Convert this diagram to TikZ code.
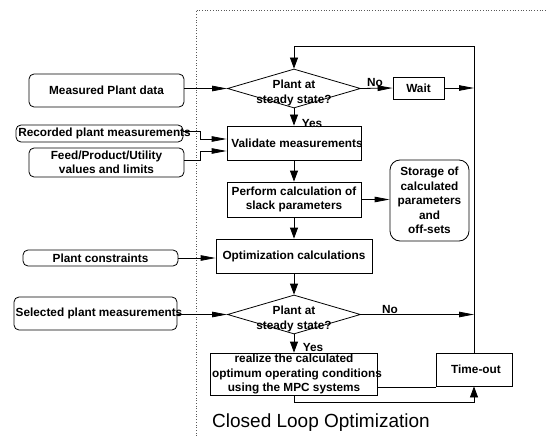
\documentclass[tikz,border=0pt]{standalone}
\usepackage{fontspec}
\setmainfont{Liberation Sans}
\usetikzlibrary{shapes.geometric,arrows.meta}

\begin{document}
\begin{tikzpicture}[x=1pt,y=-1pt,line width=0.8pt]
    \tikzstyle{harr}=[-{Triangle[length=15pt,width=5.5pt]}]
    \tikzstyle{varr}=[-{Triangle[length=11pt,width=8pt]}]
    \tikzstyle{pbox}=[draw, rectangle, inner sep=0pt, align=center, font=\bfseries\fontsize{11.8}{14.5}\selectfont]
    \tikzstyle{rbox}=[pbox, rounded corners=5pt]
    \tikzstyle{dec}=[draw, diamond, inner sep=0pt, minimum width=133pt, minimum height=39pt]
    \tikzstyle{lbl}=[inner sep=0pt, align=center, font=\bfseries\fontsize{11.8}{14.5}\selectfont]
    \def\mx{294}

    \useasboundingbox (0,0) rectangle (547,436);
    \draw[dotted, black!65, line width=0.7pt] (196,436) -- (196,10) -- (547,10);

    % inputs on the left
    \node[rbox, minimum width=155pt, minimum height=33pt] (meas) at (106.5,90.5) {Measured Plant data};
    \node[rbox, minimum width=167pt, minimum height=17pt] (recd) at (99.5,133.5) {\makebox[0pt]{\hspace{10pt}Recorded plant measurements}};
    \node[rbox, minimum width=155pt, minimum height=29pt] (feed) at (106.5,162.5) {Feed/Product/Utility\\values and limits};
    \node[rbox, minimum width=155pt, minimum height=16pt] (cons) at (100.5,258) {Plant constraints};
    \node[rbox, minimum width=163pt, minimum height=33pt] (sel) at (95.5,313.5) {\makebox[0pt]{\hspace{7pt}Selected plant measurements}};

    % main column
    \node[dec] (diaA) at (\mx,88.5) {};
    \node[lbl] (diaAtxt) at (\mx,93) {Plant at\\steady state?};
    \node[pbox, minimum width=134pt, minimum height=34pt] (valid) at (\mx,143) {\makebox[0pt]{\hspace{6pt}Validate measurements}};
    \node[pbox, minimum width=134pt, minimum height=35pt] (perf) at (\mx,199.5) {Perform calculation of\\slack parameters};
    \node[pbox, minimum width=156pt, minimum height=34pt] (optim) at (\mx,256) {Optimization calculations};
    \node[dec] (diaB) at (\mx,314.5) {};
    \node[lbl] (diaBtxt) at (\mx,319) {Plant at\\steady state?};
    \node[pbox, minimum width=167pt, minimum height=42pt] (real) at (\mx,374) {realize the calculated\\\makebox[0pt]{\hspace{6pt}optimum operating conditions}\\using the MPC systems};

    % right side
    \node[pbox, minimum width=51pt, minimum height=22pt] (wait) at (418.5,88) {Wait};
    \node[rbox, rounded corners=10pt, minimum width=79pt, minimum height=81pt] (stor) at (429.5,200.5) {Storage of\\calculated\\parameters\\and\\off-sets};
    \node[pbox, minimum width=76pt, minimum height=33pt] (tout) at (474,369.5) {\hspace{4pt}Time-out};
    \coordinate (loop) at (474,46);

    \node[lbl] (noA) at (375,82) {No};
    \node[lbl] (yesA) at (312,123) {Yes};
    \node[lbl] (noB) at (390,309) {No};
    \node[lbl] (yesB) at (313,347) {Yes};

    % connectors
    \draw[harr] (meas.east |- diaA) -- (diaA.west);
    \draw[harr] (diaA.east) -- (wait.west);
    \draw[harr] (wait.east) -- (wait.east -| loop);
    \draw[varr] (tout.north) -- (loop) -| (diaA.north);
    \draw[varr] (diaA.south) -- (valid.north);
    \draw[harr] ([yshift=2.5pt]recd.east) -- (200,131) |- ([yshift=4pt]valid.west);
    \draw[harr] ([yshift=2.5pt]feed.east) -- (200,160) |- ([yshift=-8pt]valid.west);
    \draw[varr] (valid.south) -- (perf.north);
    \draw[harr] (perf.east) -- (perf.east -| stor.west);
    \draw[varr] (perf.south) -- (optim.north);
    \draw[harr] (cons.east) -- (cons.east -| optim.west);
    \draw[varr] (optim.south) -- (diaB.north);
    \draw[harr] (sel.east |- diaB) -- (diaB.west);
    \draw[harr] (diaB.east) -- (diaB.east -| loop);
    \draw[varr] (diaB.south) -- (real.north);
    \draw ([yshift=-13pt]real.east) -- ([yshift=-13pt]real.east -| tout.west);
    \draw[varr] (real.south) -- ++(0,7) -| (tout.south);

    \node[inner sep=0pt, font=\fontsize{19}{22}\selectfont] (title) at (321,423) {Closed Loop Optimization};
\end{tikzpicture}
\end{document}
